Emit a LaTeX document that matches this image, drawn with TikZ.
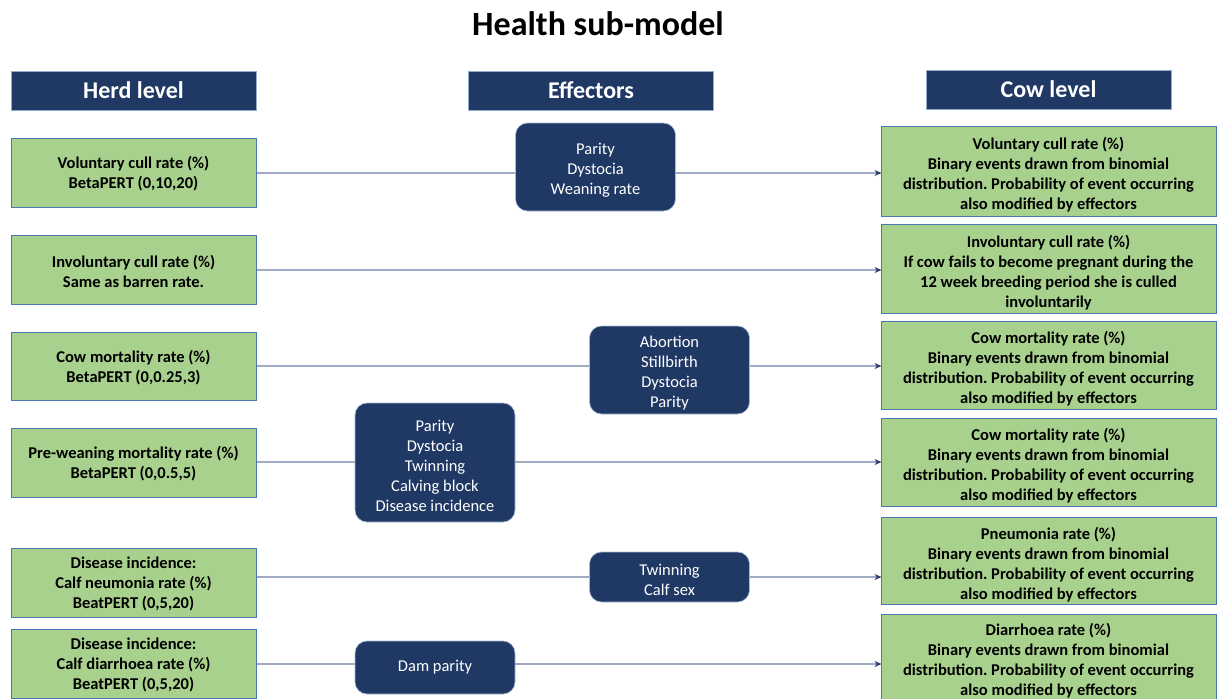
\documentclass[tikz,border=0pt]{standalone}
\usepackage{fontspec}
\setmainfont{Carlito}
\usetikzlibrary{arrows.meta}
\frenchspacing
\definecolor{navy}{RGB}{32,56,100}
\definecolor{leaf}{RGB}{169,209,142}
\definecolor{edgeblue}{RGB}{74,120,175}
\definecolor{wire}{RGB}{160,170,196}
\definecolor{tipblue}{RGB}{45,62,105}
% invisible strut that opens a little room above the first line of a box
\newcommand{\topgap}[1]{\rule{0pt}{#1}}
\newcommand{\herdgap}{\topgap{15.4pt}}
\newcommand{\cowgap}{\topgap{20.4pt}}
\newcommand{\effgap}{\topgap{17.6pt}}
\begin{document}
\begin{tikzpicture}[x=1pt,y=-1pt,
  header/.style={fill=navy,draw=edgeblue!60,line width=0.6pt,text=white,
    font=\fontsize{24}{28}\selectfont\bfseries,minimum width=245pt,minimum height=39pt,inner sep=0pt},
  herd/.style={fill=leaf,draw=edgeblue,line width=1pt,align=center,
    font=\fontsize{16.5}{20}\selectfont\bfseries,minimum width=245pt,inner sep=0pt},
  cow/.style={fill=leaf,draw=edgeblue,line width=1pt,align=center,
    font=\fontsize{16.5}{20}\selectfont\bfseries,minimum width=335pt,inner sep=0pt},
  effector/.style={fill=navy,draw=edgeblue!50,line width=0.6pt,rounded corners=12pt,text=white,align=center,
    font=\fontsize{16.5}{20}\selectfont,minimum width=160pt,inner sep=0pt},
  link/.style={draw=wire,line width=1.4pt},
  feed/.style={link,-{Stealth[length=7pt,width=6pt,color=tipblue]},shorten >=-1pt}
]
\useasboundingbox (0,0) rectangle (1224,699);

% title and column headers
\node (title) at (598,24) {\fontsize{34}{40}\selectfont\bfseries Health sub-model};
\node[header] (hherd) at (133.5,90.5) {Herd level};
\node[header] (heff) at (591,90.5) {Effectors};
\node[header] (hcow) at (1048.5,89.5) {Cow level};

% herd-level inputs
\node[herd,minimum height=69pt] (L1) at (133.5,172.5) {\herdgap Voluntary cull rate (\%)\\BetaPERT (0,10,20)};
\node[herd,minimum height=69pt] (L2) at (133.5,269.5) {\herdgap Involuntary cull rate (\%)\\Same as barren rate.};
\node[herd,minimum height=68pt] (L3) at (133.5,366) {\herdgap Cow mortality rate (\%)\\BetaPERT (0,0.25,3)};
\node[herd,minimum height=69pt] (L4) at (133.5,462.5) {\herdgap Pre-weaning mortality rate (\%)\\BetaPERT (0,0.5,5)};
\node[herd,minimum height=69pt] (L5) at (133.5,582.5) {\herdgap Disease incidence:\\Calf neumonia rate (\%)\\BeatPERT (0,5,20)};
\node[herd,minimum height=69pt] (L6) at (133.5,663.5) {\herdgap Disease incidence:\\Calf diarrhoea rate (\%)\\BeatPERT (0,5,20)};

% cow-level outcomes
\node[cow,minimum height=90pt] (R1) at (1048.5,171) {\cowgap Voluntary cull rate (\%)\\Binary events drawn from binomial\\distribution. Probability of event occurring\\also modified by effectors};
\node[cow,minimum height=89pt] (R2) at (1048.5,268.5) {\cowgap Involuntary cull rate (\%)\\If cow fails to become pregnant during the\\12 week breeding period she is culled\\involuntarily};
\node[cow,minimum height=88pt] (R3) at (1048.5,365) {\cowgap Cow mortality rate (\%)\\Binary events drawn from binomial\\distribution. Probability of event occurring\\also modified by effectors};
\node[cow,minimum height=88pt] (R4) at (1048.5,462) {\cowgap Cow mortality rate (\%)\\Binary events drawn from binomial\\distribution. Probability of event occurring\\also modified by effectors};
\node[cow,minimum height=87pt] (R5) at (1048.5,560.5) {\cowgap Pneumonia rate (\%)\\Binary events drawn from binomial\\distribution. Probability of event occurring\\also modified by effectors};
\node[cow,minimum height=86pt] (R6) at (1048.5,657) {\cowgap Diarrhoea rate (\%)\\Binary events drawn from binomial\\distribution. Probability of event occurring\\also modified by effectors};

% connectors, drawn beneath the effector boxes
\coordinate (y1) at (0,173);
\coordinate (y2) at (0,270);
\coordinate (y3) at (0,366);
\coordinate (y4) at (0,462);
\coordinate (y5) at (0,577);
\coordinate (y6) at (0,664);
\draw[feed] (L1.east |- y1) -- (R1.west |- y1);
\draw[feed] (L2.east |- y2) -- (R2.west |- y2);
\draw[feed] (L3.east |- y3) -- (R3.west |- y3);
\draw[feed] (L4.east |- y4) -- (R4.west |- y4);
\draw[feed] (L5.east |- y5) -- (R5.west |- y5);
\draw[feed] (L6.east |- y6) -- (R6.west |- y6);

% effectors
\node[effector,minimum height=88pt] (E1) at (595.5,167) {\effgap Parity\\Dystocia\\Weaning rate};
\node[effector,minimum height=88pt] (E2) at (669.5,370) {\effgap Abortion\\Stillbirth\\Dystocia\\Parity};
\node[effector,minimum height=119pt] (E3) at (435,462.5) {\effgap Parity\\Dystocia\\Twinning\\Calving block\\Disease incidence};
\node[effector,minimum height=50pt] (E4) at (669.5,577) {\effgap Twinning\\Calf sex};
\node[effector,minimum height=53pt] (E5) at (435,667.5) {Dam parity};
\end{tikzpicture}
\end{document}
